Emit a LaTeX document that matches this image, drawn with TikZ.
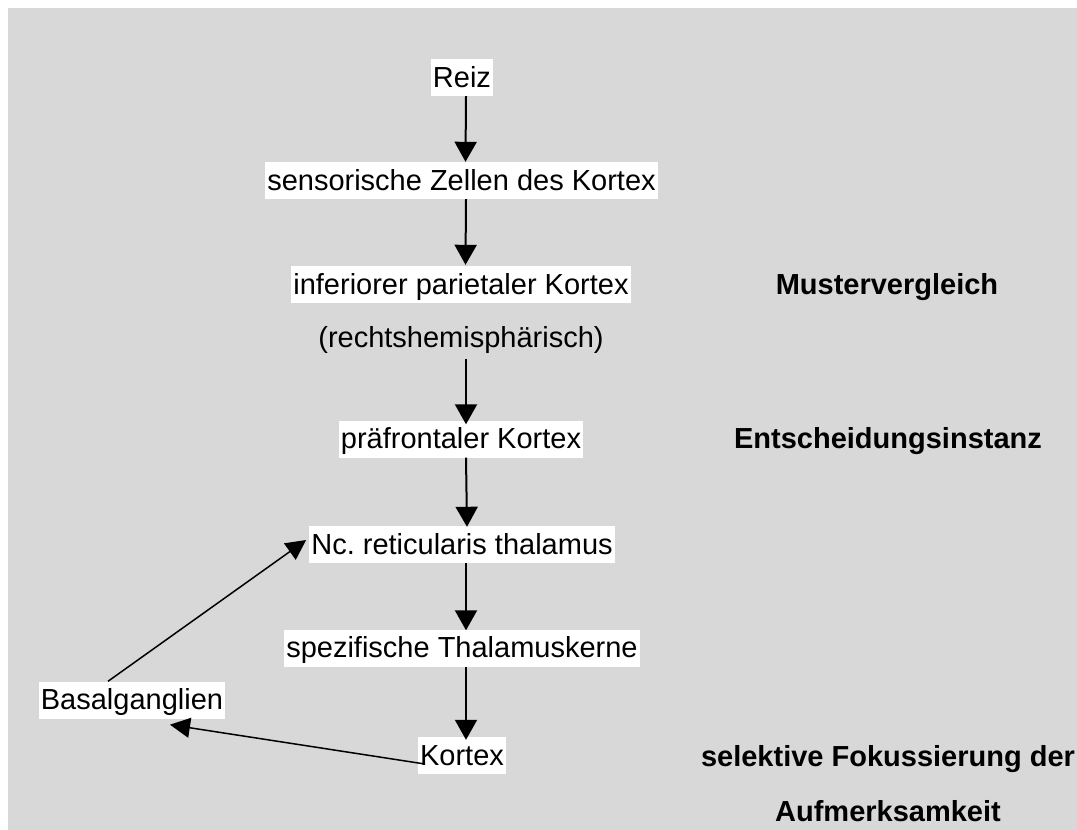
\documentclass[tikz,border=0pt]{standalone}
\usepackage{fontspec}
\setmainfont{Liberation Sans}
\usetikzlibrary{arrows.meta}
\definecolor{panelgray}{RGB}{216,216,216}
\frenchspacing
\begin{document}
\begin{tikzpicture}[x=1pt,y=-1pt,
  every node/.style={font=\fontsize{29}{34}\selectfont},
  stage/.style={fill=white, inner xsep=2pt, inner ysep=2pt, text height=26pt, text depth=7pt},
  plain/.style={inner sep=0pt, text height=26pt, text depth=7pt},
  note/.style={inner sep=0pt, text height=26pt, text depth=7pt, font=\fontsize{29}{34}\selectfont\bfseries},
  flow/.style={line width=2pt, -{Triangle[length=20pt,width=22pt]}},
  loop/.style={line width=1.5pt, -{Triangle[length=20pt,width=20pt]}}]
  % canvas
  \useasboundingbox (0,0) rectangle (1077,830);
  \fill[white] (0,0) rectangle (1077,830);
  \fill[panelgray] (8,8) rectangle (1077,830);

  % main chain
  \node[stage] (reiz)   at (462,77.5)  {Reiz};
  \node[stage] (sens)   at (461.5,180.5) {sensorische Zellen des Kortex};
  \node[stage] (inf)    at (461,284.5) {inferiorer parietaler Kortex};
  \node[plain] (recht)  at (461,338)   {(rechtshemisphärisch)};
  \node[stage] (pra)    at (461,439)   {präfrontaler Kortex};
  \node[stage] (nc)     at (462,544.5) {Nc.\ reticularis thalamus};
  \node[stage] (spez)   at (462,648)   {spezifische Thalamuskerne};
  \node[stage] (kortex) at (462,755.5) {Kortex};
  \node[stage] (basal)  at (132,700)   {Basalganglien};

  % side notes
  \node[note] (muster) at (887,284.5) {Mustervergleich};
  \node[note] (entsch) at (888,439)   {Entscheidungsinstanz};
  \node[note] (selekt) at (888,757)   {selektive Fokussierung der};
  \node[note] (aufm)   at (888,812)   {Aufmerksamkeit};

  % vertical flow
  \draw[flow] ([xshift=4]reiz.south) -- ([xshift=4]sens.north);
  \draw[flow] ([xshift=4.5]sens.south) -- ([xshift=4.5,yshift=1]inf.north);
  \draw[flow] ([xshift=5,yshift=-4]recht.south) -- ([xshift=5,yshift=-4]pra.north);
  \draw[flow] ([xshift=5]pra.south) -- ([xshift=5,yshift=-1]nc.north);
  \draw[flow] ([xshift=4]nc.south) -- ([xshift=4,yshift=-1]spez.north);
  \draw[flow] ([xshift=4]spez.south) -- ([xshift=4,yshift=-3]kortex.north);

  % feedback loop
  \draw[loop] ([shift={(7,8.5)}]kortex.west) -- ([shift={(38,6)}]basal.south);
  \draw[loop] ([xshift=-24]basal.north) -- ([shift={(-3,-4.5)}]nc.west);
\end{tikzpicture}
\end{document}
